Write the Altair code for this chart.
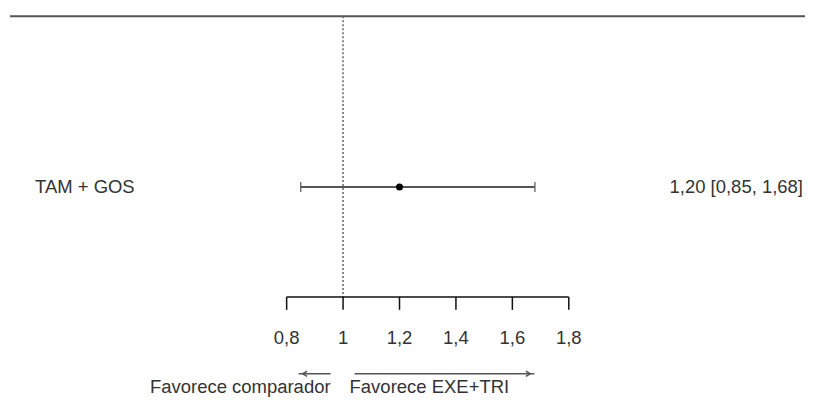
import altair as alt
import pandas as pd

# data
studies = ["TAM + GOS"]
estimates = [1.20]
lower = [0.85]
upper = [1.68]
summary_labels = ["1,20 [0,85, 1,68]"]
tick_values = [0.8, 1.0, 1.2, 1.4, 1.6, 1.8]
tick_labels = ["0,8", "1", "1,2", "1,4", "1,6", "1,8"]
null_value = [1.0]
favor_labels = ["Favorece comparador", "Favorece EXE+TRI"]

W, H = 798, 384
xscale = alt.Scale(domain=[-0.1876, 2.6372], nice=False, zero=False)
FONT = "Liberation Sans"
FS = 18.5
GREY = "#555555"

df = pd.DataFrame({"study": studies, "est": estimates, "lo": lower, "hi": upper, "lab": summary_labels})
ticks = pd.DataFrame({"t": tick_values, "lab": tick_labels})
axis_df = pd.DataFrame({"a": [min(tick_values)], "b": [max(tick_values)]})
null_df = pd.DataFrame({"v": null_value})

base = alt.Chart(df)

top_rule = base.mark_rule(color=GREY, strokeWidth=2).encode(
    x=alt.value(2), x2=alt.value(W), y=alt.value(8))

null_line = alt.Chart(null_df).mark_rule(color="#666666", strokeWidth=1.5, strokeDash=[2, 2]).encode(
    x=alt.X("v:Q", scale=xscale, axis=None), y=alt.value(8), y2=alt.value(289))

ci = base.mark_rule(color=GREY, strokeWidth=2).encode(
    x=alt.X("lo:Q", scale=xscale, axis=None), x2="hi:Q", y=alt.value(179))
cap_lo = base.mark_rule(color=GREY, strokeWidth=1.2).encode(
    x=alt.X("lo:Q", scale=xscale, axis=None), y=alt.value(174), y2=alt.value(184))
cap_hi = base.mark_rule(color=GREY, strokeWidth=1.2).encode(
    x=alt.X("hi:Q", scale=xscale, axis=None), y=alt.value(174), y2=alt.value(184))
pt = base.mark_point(filled=True, color="black", size=50, opacity=1).encode(
    x=alt.X("est:Q", scale=xscale, axis=None), y=alt.value(179))

study_txt = base.mark_text(align="left", baseline="middle", font=FONT, fontSize=FS, color="#333333").encode(
    x=alt.value(27), y=alt.value(179), text="study:N")
sum_txt = base.mark_text(align="right", baseline="middle", font=FONT, fontSize=FS, color="#333333").encode(
    x=alt.value(796), y=alt.value(179), text="lab:N")

axis_line = alt.Chart(axis_df).mark_rule(color="#111111", strokeWidth=1.5).encode(
    x=alt.X("a:Q", scale=xscale, axis=None), x2="b:Q", y=alt.value(289))
axis_ticks = alt.Chart(ticks).mark_rule(color="#111111", strokeWidth=1.5).encode(
    x=alt.X("t:Q", scale=xscale, axis=None), y=alt.value(289), y2=alt.value(302))
tick_txt = alt.Chart(ticks).mark_text(baseline="middle", font=FONT, fontSize=FS, color="#333333").encode(
    x=alt.X("t:Q", scale=xscale, axis=None), y=alt.value(330), text="lab:N")

arrow_left = base.mark_rule(color=GREY, strokeWidth=1.5).encode(
    x=alt.value(291), x2=alt.value(323), y=alt.value(366))
arrow_right = base.mark_rule(color=GREY, strokeWidth=1.5).encode(
    x=alt.value(347), x2=alt.value(527), y=alt.value(366))
head_left = base.mark_point(shape="M 1 -0.6 L 0 0 L 1 0.6", filled=False, color=GREY, size=80, strokeWidth=1.5, opacity=1).encode(
    x=alt.value(295), y=alt.value(366))
head_right = base.mark_point(shape="M -1 -0.6 L 0 0 L -1 0.6", filled=False, color=GREY, size=80, strokeWidth=1.5, opacity=1).encode(
    x=alt.value(523), y=alt.value(366))

fav_df = pd.DataFrame({"lab": favor_labels})
fav_left = alt.Chart(fav_df.iloc[[0]]).mark_text(align="right", baseline="middle", font=FONT, fontSize=FS, color="#333333").encode(
    x=alt.value(323), y=alt.value(379), text="lab:N")
fav_right = alt.Chart(fav_df.iloc[[1]]).mark_text(align="left", baseline="middle", font=FONT, fontSize=FS, color="#333333").encode(
    x=alt.value(342), y=alt.value(379), text="lab:N")

chart = alt.layer(
    top_rule, null_line, ci, cap_lo, cap_hi, pt, study_txt, sum_txt,
    axis_line, axis_ticks, tick_txt, arrow_left, arrow_right, head_left, head_right,
    fav_left, fav_right
).properties(width=W, height=H, padding=0).configure_view(stroke=None)

chart.save("out.html", embed_options={"renderer": "svg", "actions": False})
